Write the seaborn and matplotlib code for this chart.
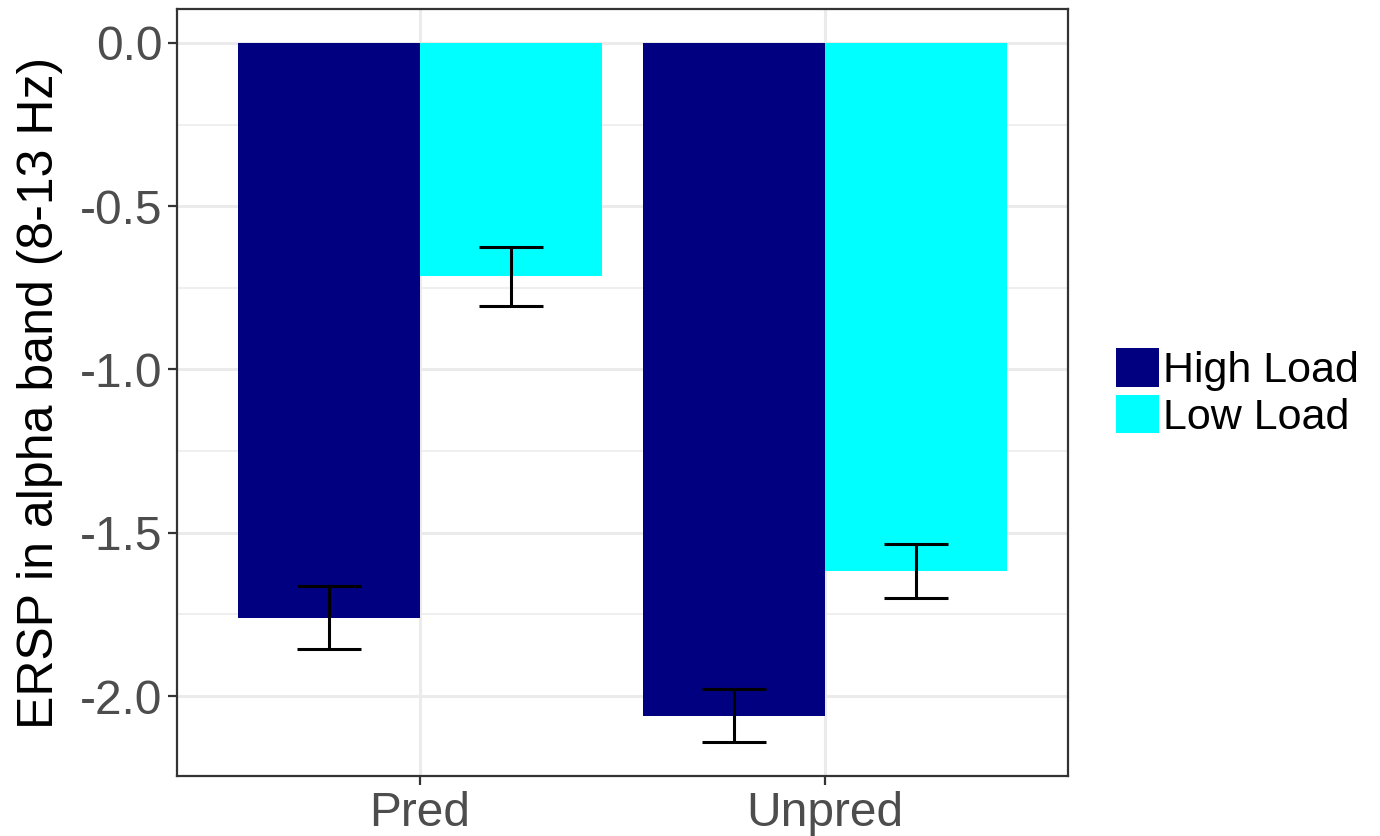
import matplotlib
matplotlib.use("Agg")
import matplotlib.pyplot as plt
import matplotlib.ticker as mticker
import pandas as pd
import seaborn as sns

# Data
conditions = ["Pred", "Unpred"]
loads = ["High Load", "Low Load"]
high_means = [-1.76, -2.06]
low_means = [-0.715, -1.617]
high_se = [0.097, 0.081]
low_se = [0.09, 0.083]
colors = {"High Load": "#000080", "Low Load": "#00FFFF"}

df = pd.DataFrame({
    "condition": conditions * 2,
    "load": [loads[0]] * 2 + [loads[1]] * 2,
    "ersp": high_means + low_means,
    "se": high_se + low_se,
})

sns.set_style("white")
plt.rcParams["font.family"] = ["Liberation Sans", "DejaVu Sans"]
plt.rcParams["axes.unicode_minus"] = False

fig = plt.figure(figsize=(13.8, 8.36), dpi=100)
ax = fig.add_axes([177 / 1380, 1 - 776 / 836, 891 / 1380, 767 / 836])

sns.barplot(data=df, x="condition", y="ersp", hue="load", order=conditions,
            hue_order=loads, palette=colors, width=0.9, errorbar=None,
            saturation=1, linewidth=0, ax=ax, zorder=2)

# Error bars centred on each bar
for container, load in zip(ax.containers, loads):
    sub = df[df["load"] == load].set_index("condition").loc[conditions]
    xs = [b.get_x() + b.get_width() / 2 for b in container]
    ax.errorbar(xs, sub["ersp"], yerr=sub["se"], fmt="none", ecolor="black",
                elinewidth=2.2, capsize=23, capthick=2.2, zorder=3)

ax.set_xlim(-0.6, 1.6)
ax.set_ylim(-2.245, 0.104)
ax.yaxis.set_major_locator(mticker.FixedLocator([0.0, -0.5, -1.0, -1.5, -2.0]))
ax.yaxis.set_major_formatter(mticker.FormatStrFormatter("%.1f"))
ax.yaxis.set_minor_locator(mticker.FixedLocator([-0.25, -0.75, -1.25, -1.75]))
ax.set_axisbelow(True)
ax.grid(which="major", color="#EBEBEB", linewidth=2.2)
ax.grid(which="minor", axis="y", color="#EBEBEB", linewidth=1.1)

ax.set_xlabel("")
ax.set_ylabel("ERSP in alpha band (8-13 Hz)", fontsize=36, color="black",
              labelpad=12)
ax.tick_params(axis="both", which="major", labelsize=34.5, labelcolor="#4D4D4D",
               color="#333333", length=6.5, width=1.6, pad=4, left=True,
               bottom=True)
ax.tick_params(axis="y", which="minor", length=0)
for spine in ax.spines.values():
    spine.set_visible(True)
    spine.set_color("#333333")
    spine.set_linewidth(1.6)

handles, labels = ax.get_legend_handles_labels()
for h in handles:
    h.set_linewidth(0)
ax.legend(handles, labels, loc="center left", frameon=False, fontsize=31,
          labelcolor="black", bbox_to_anchor=(1116 / 1380, 1 - 393 / 836),
          bbox_transform=fig.transFigure, borderpad=0, borderaxespad=0,
          handlelength=1.0, handleheight=1.0, handletextpad=0.1,
          labelspacing=0.08)

fig.savefig("out.png", dpi=100)
